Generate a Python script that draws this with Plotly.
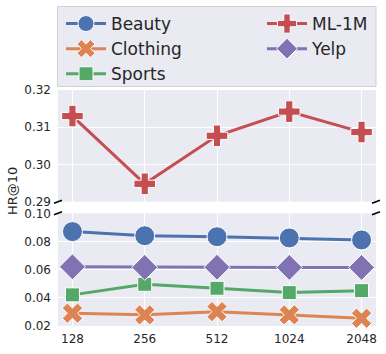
import plotly.graph_objects as go

sizes = ["128", "256", "512", "1024", "2048"]
beauty = [0.0870, 0.0841, 0.0834, 0.0825, 0.0811]
clothing = [0.0291, 0.0279, 0.0302, 0.0279, 0.0255]
sports = [0.0421, 0.0496, 0.0468, 0.0437, 0.0451]
yelp = [0.0620, 0.0616, 0.0617, 0.0616, 0.0616]
ml1m = [0.3130, 0.2948, 0.3077, 0.3142, 0.3087]

top_ticks = [0.29, 0.30, 0.31, 0.32]
bottom_ticks = [0.02, 0.04, 0.06, 0.08, 0.10]

BG = "#EAEAF2"
TXT = "#262626"
FONT = "DejaVu Sans"

W, H = 386, 354
L, R, T, B = 58, 10, 90, 28
pw, ph = W - L - R, H - T - B

def py(pix):
    return 1 - (pix - T) / ph

def px(pix):
    return (pix - L) / pw

fig = go.Figure()

def add(name, y, color, symbol, size, axis, leg):
    fig.add_trace(go.Scatter(
        x=sizes, y=y, name=name, mode="lines+markers",
        line=dict(color=color, width=3),
        marker=dict(symbol=symbol, size=size, color=color, line=dict(color="white", width=1)),
        xaxis="x" if axis == "bottom" else "x2",
        yaxis="y" if axis == "bottom" else "y2",
        legend=leg, legendgroup=name, cliponaxis=False,
    ))

add("Beauty", beauty, "#4C72B0", "circle", 20, "bottom", "legend")
add("Clothing", clothing, "#DD8452", "x", 18, "bottom", "legend")
add("Sports", sports, "#55A868", "square", 14, "bottom", "legend")
add("ML-1M", ml1m, "#C44E52", "cross", 18, "top", "legend2")
add("Yelp", yelp, "#8172B3", "diamond", 20, "bottom", "legend2")

top_dom = [py(201.7), 1]
bot_dom = [0, py(213.3)]

axis_common = dict(showgrid=True, gridcolor="white", gridwidth=1, zeroline=False,
                   showline=False, ticks="", automargin=False,
                   tickfont=dict(size=12, color=TXT, family=FONT))

leg_common = dict(orientation="v", xanchor="left", yanchor="top",
                  bgcolor="rgba(0,0,0,0)", borderwidth=0,
                  font=dict(size=17, color=TXT, family=FONT),
                  itemwidth=40, traceorder="grouped", tracegroupgap=0)

fig.update_layout(
    width=W, height=H,
    margin=dict(l=L, r=R, t=T, b=B, autoexpand=False),
    paper_bgcolor="white", plot_bgcolor=BG,
    font=dict(family=FONT, color=TXT),
    xaxis=dict(type="category", range=[-0.2, 4.2], anchor="y", ticklabelstandoff=4, **axis_common),
    yaxis=dict(domain=bot_dom, range=[0.02, 0.10], tickvals=bottom_ticks, tickformat=".2f",
               anchor="x", ticklabelstandoff=6, **axis_common),
    xaxis2=dict(type="category", range=[-0.2, 4.2], anchor="y2", showticklabels=False,
                matches="x", **axis_common),
    yaxis2=dict(domain=top_dom, range=[0.29, 0.32], tickvals=top_ticks, tickformat=".2f",
                anchor="x2", ticklabelstandoff=6, **axis_common),
    legend=dict(x=px(61), y=py(6), **leg_common),
    legend2=dict(x=px(262), y=py(6), **leg_common),
    showlegend=True,
)

# legend frame spanning both legend columns
fig.add_shape(type="rect", xref="paper", yref="paper",
              x0=px(57.5), y0=py(86.5), x1=px(376), y1=py(6.5),
              fillcolor=BG, line=dict(color="#D0D0D0", width=1), layer="below")

# the y-axis title
fig.add_annotation(text="HR@10", xref="paper", yref="paper", x=px(12), y=py(191),
                   textangle=-90, showarrow=False, font=dict(size=13, color=TXT, family=FONT),
                   xanchor="center", yanchor="middle")

# broken-axis marks
for xp in (L, W - R):
    for yp in (201.7, 213.3):
        fig.add_shape(type="line", xref="paper", yref="paper",
                      x0=px(xp - 4), y0=py(yp + 1.5), x1=px(xp + 4), y1=py(yp - 1.5),
                      line=dict(color="black", width=1.5))

fig.write_html("out.html", config={"displayModeBar": False},
               post_script="document.body.style.margin='0';")
